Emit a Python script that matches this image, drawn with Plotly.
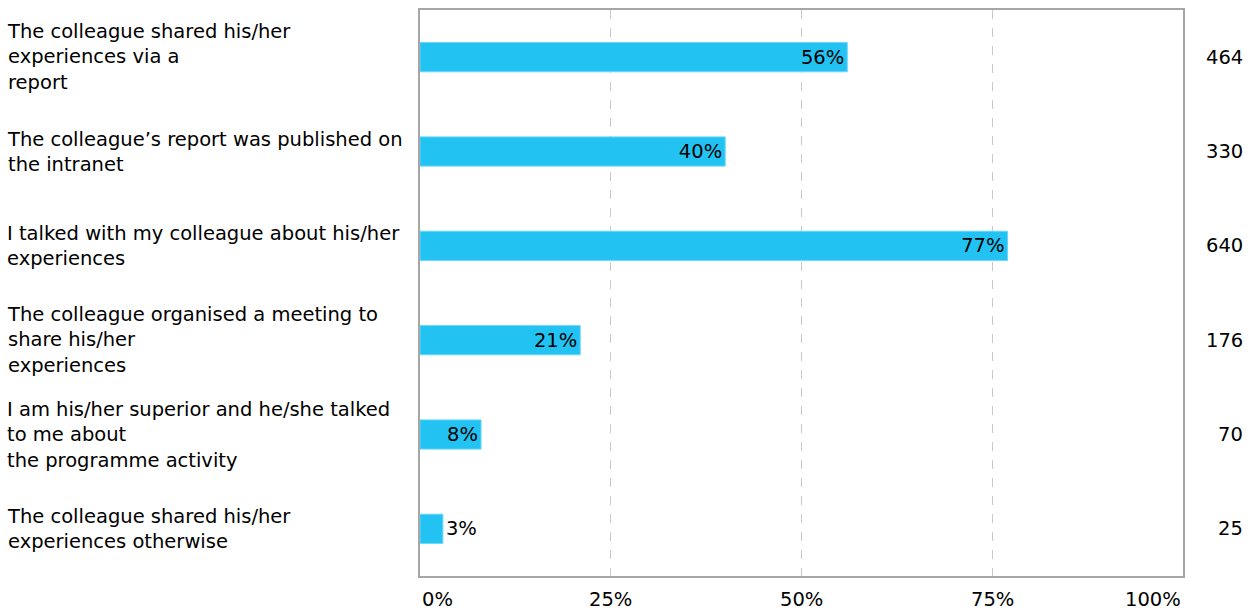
import plotly.graph_objects as go

# Survey answers (top to bottom), share of respondents and response counts
categories = [
    "The colleague shared his/her<br>experiences via a<br>report",
    "The colleague’s report was published on<br>the intranet",
    "I talked with my colleague about his/her<br>experiences",
    "The colleague organised a meeting to<br>share his/her<br>experiences",
    "I am his/her superior and he/she talked<br>to me about<br>the programme activity",
    "The colleague shared his/her<br>experiences otherwise",
]
percent = [56, 40, 77, 21, 8, 3]
counts = [464, 330, 640, 176, 70, 25]
tick_values = [0, 25, 50, 75, 100]
tick_labels = ["0%", "25%", "50%", "75%", "100%"]

FONT = "DejaVu Sans, Verdana, sans-serif"
FS = 19.5

fig = go.Figure(
    go.Bar(
        x=percent,
        y=list(range(len(categories))),
        orientation="h",
        width=0.31,
        marker=dict(color="#22C3F3", line=dict(color="#6BD7F7", width=1)),
        text=[f"{p}%" for p in percent],
        textposition="auto",
        insidetextanchor="end",
        textfont=dict(family=FONT, size=FS, color="#000000"),
        insidetextfont=dict(family=FONT, size=FS, color="#000000"),
        outsidetextfont=dict(family=FONT, size=FS, color="#000000"),
        cliponaxis=False,
        hoverinfo="skip",
    )
)

annotations = []
# Category labels, left-aligned at the page edge
for i, cat in enumerate(categories):
    annotations.append(dict(
        x=-415 / 763, xref="paper", y=i, yref="y",
        text=cat, showarrow=False, xanchor="left", yanchor="middle",
        align="left", font=dict(family=FONT, size=FS, color="#000000"),
    ))
# Response counts on the right
for i, n in enumerate(counts):
    annotations.append(dict(
        x=1 + 62 / 763, xref="paper", y=i, yref="y",
        text=str(n), showarrow=False, xanchor="right", yanchor="middle",
        font=dict(family=FONT, size=FS, color="#000000"),
    ))
# Percentage axis labels, with the end labels kept inside the frame
anchors = ["left", "center", "center", "center", "right"]
for v, lab, anc in zip(tick_values, tick_labels, anchors):
    annotations.append(dict(
        x=v, xref="x", y=0, yref="paper", yshift=-10,
        text=lab, showarrow=False, xanchor=anc, yanchor="top",
        font=dict(family=FONT, size=FS, color="#000000"),
    ))

fig.update_layout(
    width=1255, height=612,
    margin=dict(l=420, r=72, t=8, b=36),
    paper_bgcolor="white", plot_bgcolor="white",
    showlegend=False,
    annotations=annotations,
    xaxis=dict(
        range=[0, 100], tickvals=tick_values, showticklabels=False,
        showgrid=True, gridcolor="#C8C8C8", griddash="dash", gridwidth=1,
        showline=True, linecolor="#A6A6A6", linewidth=2, mirror=True,
        zeroline=False, ticks="", fixedrange=True,
    ),
    yaxis=dict(
        range=[len(categories) - 0.5, -0.5], showticklabels=False,
        showgrid=False, zeroline=False, ticks="",
        showline=True, linecolor="#A6A6A6", linewidth=2, mirror=True,
        fixedrange=True,
    ),
)

fig.write_html("out.html")
